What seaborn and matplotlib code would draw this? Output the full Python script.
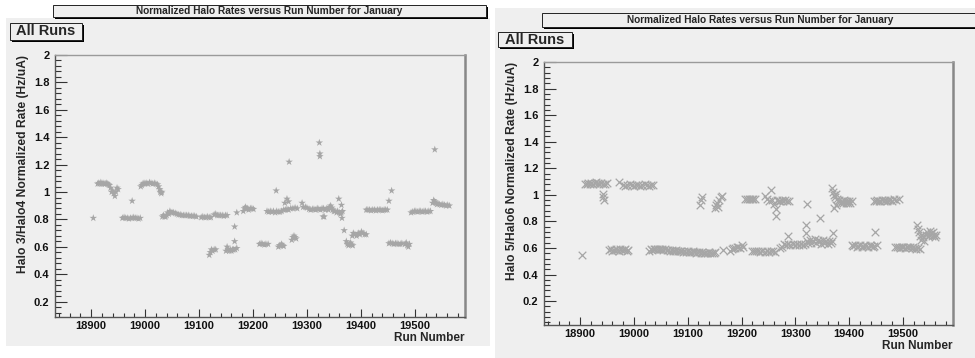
import matplotlib
matplotlib.use("Agg")
import matplotlib.pyplot as plt
from matplotlib.patches import Rectangle
from matplotlib.ticker import MultipleLocator
import seaborn as sns

TITLE = "Normalized Halo Rates versus Run Number for January"
PAD_LABEL = "All Runs"
XLABEL = "Run Number"
YLABEL_LEFT = "Halo 3/Halo4 Normalized Rate (Hz/uA)"
YLABEL_RIGHT = "Halo 5/Halo6 Normalized Rate (Hz/uA)"
x_ticks = [18900, 19000, 19100, 19200, 19300, 19400, 19500]
y_ticks = [0.2, 0.4, 0.6, 0.8, 1.0, 1.2, 1.4, 1.6, 1.8, 2.0]
y_tick_labels = ["0.2", "0.4", "0.6", "0.8", "1", "1.2", "1.4", "1.6", "1.8", "2"]

# Halo3/Halo4 (left panel, star markers)
left_runs = [
    18904,
    18912, 18914, 18916, 18918, 18920, 18922, 18924, 18926, 18928, 18930, 18932, 18934,
    18936, 18938, 18940, 18942, 18944, 18946, 18948, 18950,
    18958, 18961, 18964, 18967, 18970, 18973, 18976, 18979, 18982, 18985, 18988, 18991, 18976,
    18992, 18994, 18996, 18998, 19000, 19002, 19005, 19008, 19011, 19014, 19017, 19020, 19023,
    19025, 19027, 19028, 19030, 19031,
    19032, 19034, 19036, 19038, 19040, 19042, 19044, 19046, 19048, 19050, 19053, 19056, 19059,
    19062, 19065, 19068, 19071, 19074, 19077, 19080, 19083, 19086, 19089, 19092, 19095,
    19104, 19107, 19110, 19113, 19116, 19119, 19122,
    19128, 19131, 19134, 19137, 19140, 19143, 19146, 19149, 19152,
    19119, 19121, 19123, 19125, 19128, 19131,
    19150, 19152, 19154, 19156, 19158, 19160, 19162, 19164, 19167, 19170,
    19166, 19166, 19170,
    19182, 19184, 19186, 19188, 19190, 19192, 19195, 19198, 19201,
    19212, 19215, 19218, 19221, 19224, 19228,
    19226, 19229, 19232, 19235, 19238, 19241, 19244, 19247, 19250, 19253, 19243,
    19247, 19249, 19251, 19253, 19255, 19257,
    19257, 19260, 19263, 19266, 19270, 19274, 19278, 19282,
    19259, 19263, 19266, 19267, 19291,
    19272, 19274, 19276, 19278, 19280,
    19293, 19297, 19300,
    19304, 19307, 19310, 19313, 19316, 19319, 19322, 19325, 19328, 19331, 19334, 19337, 19340,
    19342, 19344, 19346, 19348, 19350, 19352, 19355,
    19323, 19324, 19324, 19330, 19332,
    19357, 19360, 19362, 19364, 19366, 19359, 19364, 19365, 19369,
    19373, 19375, 19377, 19379, 19381, 19383, 19385,
    19384, 19386, 19389, 19392, 19395, 19398, 19401, 19404, 19407, 19410,
    19410, 19413, 19416, 19419, 19422, 19425, 19428, 19431, 19434, 19437, 19440, 19443, 19446,
    19449, 19452, 19457,
    19452, 19455, 19458, 19461, 19464, 19467, 19470, 19473, 19476,
    19482, 19484, 19486, 19488, 19490,
    19493, 19496, 19499, 19502, 19505, 19508, 19511, 19514, 19517, 19520, 19523, 19526, 19529, 19537,
    19533, 19535, 19537, 19539, 19541, 19543, 19546, 19549, 19552, 19555, 19558, 19561, 19564,
]
left_rate = [
    0.81,
    1.06, 1.065, 1.06, 1.07, 1.06, 1.065, 1.06, 1.06, 1.065, 1.06, 1.055, 1.05,
    1.03, 1.00, 1.01, 0.99, 0.97, 1.00, 1.03, 1.02,
    0.81, 0.815, 0.81, 0.81, 0.805, 0.81, 0.81, 0.815, 0.81, 0.81, 0.805, 0.81, 0.935,
    1.04, 1.05, 1.06, 1.065, 1.06, 1.065, 1.06, 1.07, 1.065, 1.06, 1.065, 1.06, 1.055,
    1.04, 1.02, 1.00, 0.99, 1.00,
    0.82, 0.83, 0.82, 0.82, 0.83, 0.85, 0.84, 0.86, 0.85, 0.85, 0.85, 0.845, 0.84,
    0.835, 0.835, 0.83, 0.83, 0.83, 0.83, 0.83, 0.825, 0.825, 0.825, 0.825, 0.82,
    0.815, 0.82, 0.815, 0.815, 0.82, 0.815, 0.815,
    0.835, 0.84, 0.83, 0.83, 0.83, 0.83, 0.825, 0.83, 0.83,
    0.54, 0.56, 0.58, 0.57, 0.58, 0.58,
    0.57, 0.60, 0.58, 0.57, 0.58, 0.57, 0.58, 0.58, 0.58, 0.59,
    0.747, 0.64, 0.85,
    0.86, 0.88, 0.89, 0.88, 0.88, 0.87, 0.88, 0.88, 0.875,
    0.62, 0.625, 0.62, 0.615, 0.62, 0.62,
    0.86, 0.855, 0.86, 0.855, 0.86, 0.85, 0.86, 0.855, 0.855, 0.86, 1.01,
    0.60, 0.61, 0.61, 0.62, 0.61, 0.605,
    0.87, 0.87, 0.875, 0.87, 0.88, 0.88, 0.885, 0.88,
    0.92, 0.95, 0.93, 1.22, 0.92,
    0.65, 0.67, 0.68, 0.67, 0.66,
    0.89, 0.89, 0.885,
    0.875, 0.87, 0.875, 0.875, 0.87, 0.88, 0.875, 0.87, 0.88, 0.88, 0.87, 0.88, 0.87,
    0.89, 0.90, 0.885, 0.87, 0.86, 0.86, 0.85,
    1.36, 1.28, 1.26, 0.82, 0.82,
    0.86, 0.85, 0.84, 0.85, 0.86, 0.95, 0.905, 0.81, 0.72,
    0.64, 0.62, 0.61, 0.62, 0.63, 0.615, 0.61,
    0.68, 0.70, 0.69, 0.68, 0.70, 0.69, 0.71, 0.70, 0.69, 0.69,
    0.87, 0.87, 0.87, 0.865, 0.87, 0.87, 0.865, 0.87, 0.87, 0.87, 0.865, 0.87, 0.87,
    0.87, 0.935, 1.01,
    0.625, 0.63, 0.625, 0.62, 0.625, 0.625, 0.62, 0.62, 0.625,
    0.62, 0.63, 0.61, 0.60, 0.62,
    0.85, 0.855, 0.86, 0.86, 0.855, 0.86, 0.86, 0.855, 0.86, 0.86, 0.855, 0.86, 0.86, 1.31,
    0.92, 0.94, 0.93, 0.92, 0.91, 0.915, 0.91, 0.905, 0.91, 0.905, 0.90, 0.905, 0.90,
]

# Halo5/Halo6 (right panel, cross markers)
right_runs = [
    18903,
    18909, 18912, 18915, 18918, 18921, 18924, 18927, 18930, 18933, 18936, 18939, 18942, 18946, 18950,
    18943, 18943, 18944, 18973,
    18980, 18984, 18988, 18992, 18996, 19000, 19004, 19008, 19012, 19016, 19020, 19024, 19028, 19032, 19035,
    18954, 18957, 18960, 18963, 18966, 18969, 18972, 18975, 18978, 18981, 18984, 18987, 18990,
    19028, 19031, 19034, 19037, 19040, 19043, 19046, 19049, 19052, 19055, 19058, 19061, 19064,
    19067, 19070, 19073, 19076, 19079, 19082, 19085,
    19088, 19091, 19094, 19097, 19100, 19103, 19106, 19109, 19112, 19115, 19118, 19121,
    19124, 19127, 19130, 19133, 19136, 19139, 19142, 19145, 19148, 19151,
    19123, 19125, 19127,
    19151, 19153, 19155, 19157, 19159, 19161, 19163, 19166,
    19179, 19182, 19185, 19188, 19191, 19194, 19197, 19200, 19203,
    19207, 19210, 19213, 19216, 19219, 19222, 19226,
    19219, 19223, 19227, 19231, 19235, 19239, 19243, 19247, 19251, 19255, 19259, 19263,
    19254, 19244, 19248, 19252, 19256, 19260, 19264, 19264,
    19266, 19269, 19272, 19275, 19278, 19281, 19284, 19288,
    19271, 19275, 19279, 19283, 19287, 19287, 19291, 19295, 19299, 19303, 19307, 19311, 19315,
    19321, 19320, 19320, 19346, 19370,
    19318, 19321, 19324, 19327, 19330, 19333, 19336, 19339, 19342, 19345, 19348, 19351, 19354,
    19357, 19360, 19363, 19366, 19369,
    19368, 19370, 19372, 19374, 19376, 19378, 19380, 19382, 19384, 19386, 19388, 19390, 19392,
    19394, 19396, 19398, 19400, 19402, 19405, 19372, 19376,
    19405, 19408, 19411, 19414, 19417, 19420, 19423, 19426, 19429, 19432, 19435, 19438, 19441,
    19444, 19447, 19451, 19448,
    19446, 19449, 19452, 19455, 19458, 19461, 19464, 19467, 19470, 19473, 19476, 19480, 19484, 19488, 19492,
    19486, 19489, 19492, 19495, 19498, 19501, 19504, 19507, 19510, 19513, 19516, 19519, 19522,
    19525, 19528, 19532,
    19526, 19528, 19530, 19532, 19534, 19536, 19538, 19540, 19542, 19544, 19546, 19548, 19550,
    19552, 19554, 19556, 19558, 19560, 19562,
]
right_rate = [
    0.55,
    1.08, 1.085, 1.09, 1.08, 1.09, 1.085, 1.09, 1.095, 1.09, 1.085, 1.09, 1.08, 1.085, 1.09,
    1.01, 0.98, 0.96, 1.093,
    1.075, 1.07, 1.075, 1.08, 1.075, 1.07, 1.075, 1.075, 1.07, 1.075, 1.08, 1.075, 1.07, 1.075, 1.075,
    0.585, 0.59, 0.58, 0.585, 0.59, 0.585, 0.58, 0.59, 0.585, 0.585, 0.59, 0.58, 0.585,
    0.58, 0.59, 0.585, 0.59, 0.595, 0.59, 0.59, 0.595, 0.59, 0.585, 0.59, 0.585, 0.585,
    0.58, 0.585, 0.58, 0.58, 0.585, 0.58, 0.575,
    0.575, 0.57, 0.575, 0.57, 0.575, 0.57, 0.57, 0.575, 0.57, 0.565, 0.57, 0.57,
    0.565, 0.57, 0.565, 0.56, 0.565, 0.57, 0.565, 0.56, 0.565, 0.57,
    0.925, 0.96, 0.98,
    0.90, 0.92, 0.94, 0.91, 0.96, 0.98, 0.99, 0.586,
    0.58, 0.59, 0.60, 0.60, 0.61, 0.61, 0.60, 0.62, 0.61,
    0.965, 0.97, 0.965, 0.97, 0.965, 0.97, 0.965,
    0.58, 0.575, 0.58, 0.575, 0.57, 0.575, 0.57, 0.575, 0.57, 0.58, 0.575, 0.57,
    1.04, 0.99, 0.97, 0.95, 0.96, 0.93, 0.89, 0.84,
    0.96, 0.95, 0.955, 0.96, 0.95, 0.96, 0.955, 0.95,
    0.60, 0.61, 0.63, 0.62, 0.63, 0.69, 0.62, 0.63, 0.62, 0.63, 0.62, 0.63, 0.62,
    0.93, 0.775, 0.71, 0.825, 0.71,
    0.63, 0.65, 0.64, 0.66, 0.64, 0.65, 0.67, 0.64, 0.66, 0.65, 0.63, 0.66, 0.64,
    0.65, 0.63, 0.65, 0.64, 0.65,
    1.05, 1.02, 1.00, 0.98, 1.01, 0.97, 0.95, 0.96, 0.94, 0.95, 0.94, 0.96, 0.95,
    0.94, 0.95, 0.94, 0.95, 0.94, 0.95, 0.90, 0.925,
    0.62, 0.615, 0.62, 0.61, 0.615, 0.62, 0.61, 0.615, 0.62, 0.615, 0.61, 0.62, 0.615,
    0.61, 0.615, 0.62, 0.72,
    0.95, 0.955, 0.96, 0.955, 0.95, 0.96, 0.955, 0.96, 0.955, 0.96, 0.96, 0.955, 0.965, 0.96, 0.965,
    0.605, 0.61, 0.605, 0.60, 0.61, 0.605, 0.60, 0.605, 0.61, 0.605, 0.60, 0.605, 0.60,
    0.595, 0.60, 0.595,
    0.77, 0.74, 0.72, 0.69, 0.66, 0.70, 0.68, 0.65, 0.70, 0.72, 0.69, 0.70, 0.73,
    0.71, 0.69, 0.72, 0.70, 0.68, 0.70,
]

sns.set_theme(style="ticks")
plt.rcParams["font.family"] = ["Liberation Sans", "DejaVu Sans"]
plt.rcParams["font.weight"] = "bold"

W, H = 975, 358
BG = "#efefef"
MARK = "#a6a6a6"
fig = plt.figure(figsize=(9.75, 3.58), dpi=100, facecolor="white")


def px_rect(x0, y0, x1, y1, **kw):
    return Rectangle((x0 / W, 1 - y1 / H), (x1 - x0) / W, (y1 - y0) / H,
                     transform=fig.transFigure, **kw)


# panel backgrounds (drawn beneath the axes)
fig.patches.append(px_rect(6, 18, 490, 346, facecolor=BG, edgecolor="none", zorder=-10))
fig.patches.append(px_rect(495, 8, 975, 358, facecolor=BG, edgecolor="none", zorder=-10))


def boxed_text(x0, y0, x1, y1, text, size, shadow=2.2):
    fig.patches.append(px_rect(x0 + 2, y0 + 2, x1 + shadow, y1 + shadow,
                               facecolor="black", edgecolor="none", zorder=1))
    fig.patches.append(px_rect(x0, y0, x1, y1, facecolor=BG, edgecolor="#222222",
                               linewidth=0.7, zorder=2))
    fig.text((x0 + x1) / 2 / W, 1 - (y0 + y1) / 2 / H, text, ha="center", va="center",
             fontsize=size, fontweight="bold", zorder=3)


boxed_text(53, 5, 486, 16.5, TITLE, 7.3)
boxed_text(542, 13, 978, 26.5, TITLE, 7.3)
boxed_text(10, 23, 82, 39.5, PAD_LABEL, 10.5)
boxed_text(498, 32, 572, 47, PAD_LABEL, 10.5)

panels = [
    dict(rect=(55, 55, 465, 317), runs=left_runs, rate=left_rate, marker="*",
         ylabel=YLABEL_LEFT, ylim=(0.088, 2.0)),
    dict(rect=(544, 62, 953, 325), runs=right_runs, rate=right_rate, marker="x",
         ylabel=YLABEL_RIGHT, ylim=(0.02, 2.0)),
]

for p in panels:
    x0, y0, x1, y1 = p["rect"]
    ax = fig.add_axes([x0 / W, 1 - y1 / H, (x1 - x0) / W, (y1 - y0) / H])
    ax.set_zorder(5)
    ax.set_facecolor(BG)
    if p["marker"] == "*":
        sns.scatterplot(x=p["runs"], y=p["rate"], marker="*", s=32, color=MARK,
                        edgecolor="none", linewidth=0, ax=ax, legend=False)
    else:
        sns.scatterplot(x=p["runs"], y=p["rate"], marker="x", s=30, color=MARK,
                        linewidth=0.9, ax=ax, legend=False)
    ax.set_xlim(18833, 19593)
    ax.set_ylim(*p["ylim"])
    ax.set_xticks(x_ticks, labels=[str(t) for t in x_ticks])
    ax.set_yticks(y_ticks, labels=y_tick_labels)
    ax.xaxis.set_minor_locator(MultipleLocator(20))
    ax.yaxis.set_minor_locator(MultipleLocator(0.04))
    ax.tick_params(axis="both", which="both", direction="in", color="#333333",
                   width=0.8, labelsize=8, labelcolor="#111111")
    ax.tick_params(axis="y", which="major", length=8.5, pad=4)
    ax.tick_params(axis="y", which="minor", length=4.3)
    ax.tick_params(axis="x", which="major", length=6, pad=3)
    ax.tick_params(axis="x", which="minor", length=3)
    for lab in ax.get_xticklabels() + ax.get_yticklabels():
        lab.set_fontweight("bold")
    ax.spines["left"].set_color("#555555")
    ax.spines["bottom"].set_color("#555555")
    ax.spines["top"].set_color("#9a9a9a")
    ax.spines["right"].set_color("#888888")
    ax.spines["left"].set_linewidth(1.0)
    ax.spines["bottom"].set_linewidth(1.0)
    ax.spines["top"].set_linewidth(1.0)
    ax.spines["right"].set_linewidth(1.8)
    ax.set_ylabel(p["ylabel"], fontsize=8.7, fontweight="bold", loc="top")
    ax.yaxis.set_label_coords(-0.063, 1.0)
    ax.set_xlabel(XLABEL, fontsize=8.5, fontweight="bold", loc="right")
    ax.xaxis.set_label_coords(1.0, -0.058)

fig.savefig("out.png", dpi=100, facecolor="white")
